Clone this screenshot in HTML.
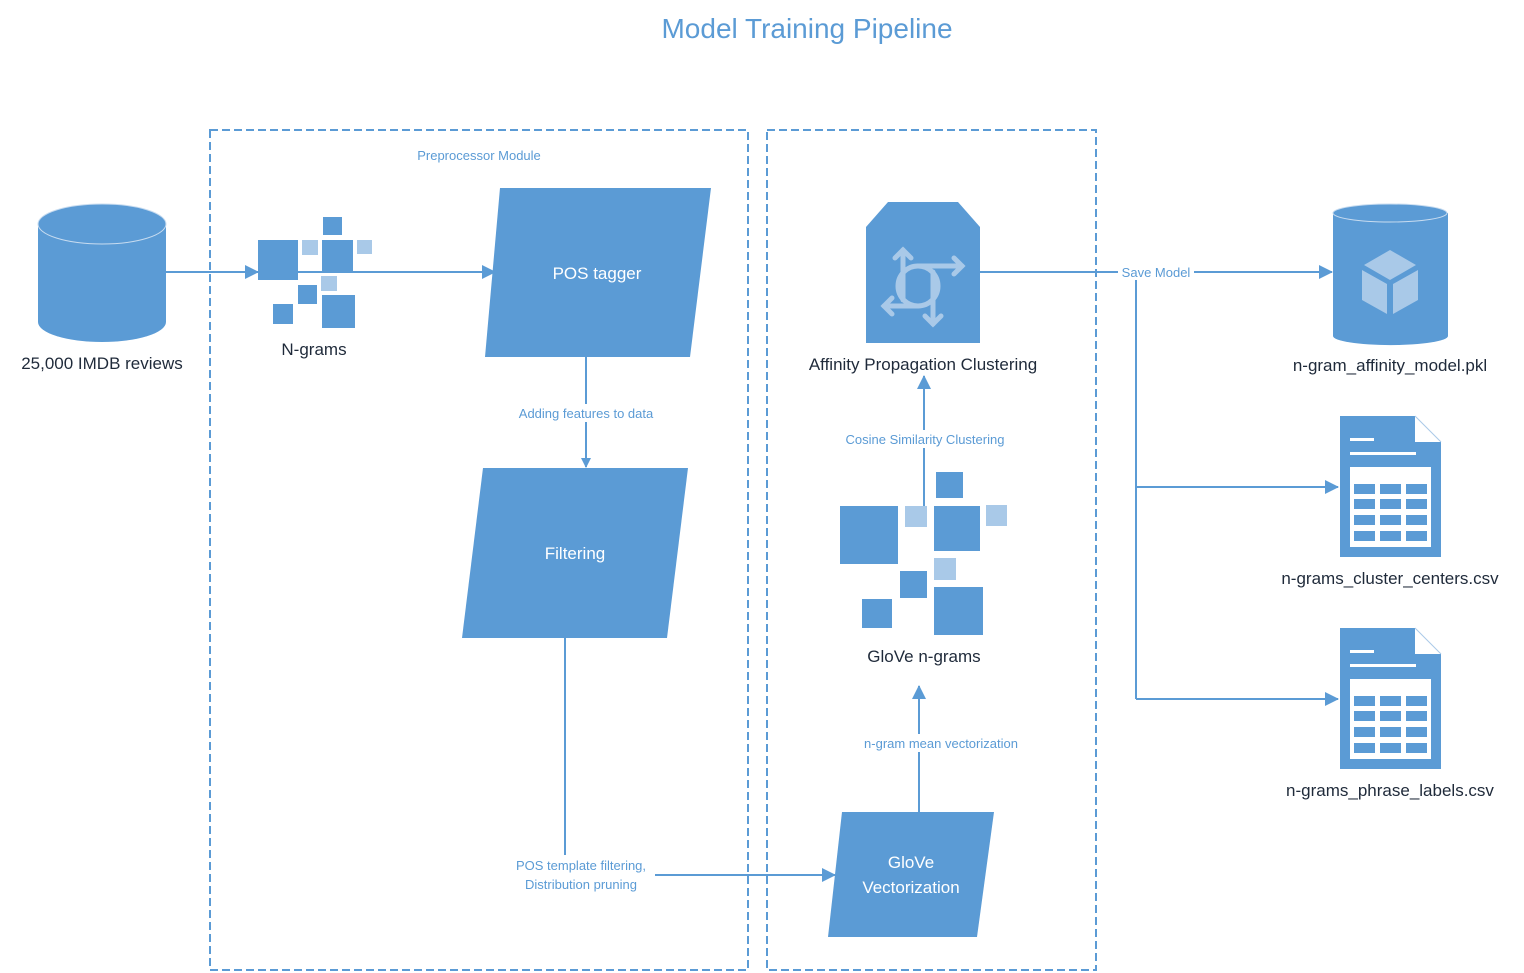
<!DOCTYPE html>
<html><head><meta charset="utf-8"><style>
html,body{margin:0;padding:0;background:#fff;}
svg{display:block;font-family:"Liberation Sans",sans-serif;}
.lbl{font-size:17px;fill:#1f2a3a;text-anchor:middle;}
.sm{font-size:13px;fill:#5b9bd5;text-anchor:middle;}
.wt{font-size:17px;fill:#fff;text-anchor:middle;}
.b{fill:#5b9bd5;}
.l{fill:#a9c9e8;}
.ln{stroke:#5b9bd5;stroke-width:2;fill:none;}
</style></head><body>
<svg width="1524" height="973" viewBox="0 0 1524 973">
<defs>
<marker id="a" markerWidth="10" markerHeight="10" refX="9" refY="5" orient="auto" markerUnits="userSpaceOnUse"><path d="M0,0 L10,5 L0,10 z" fill="#5b9bd5"/></marker>
<marker id="a2" markerWidth="14" markerHeight="14" refX="13" refY="7" orient="auto" markerUnits="userSpaceOnUse"><path d="M0,0 L14,7 L0,14 z" fill="#5b9bd5"/></marker>
</defs>
<text x="807" y="38" font-size="28" fill="#5b9bd5" text-anchor="middle">Model Training Pipeline</text>

<rect x="210" y="130" width="538" height="840" fill="none" stroke="#5b9bd5" stroke-width="2" stroke-dasharray="8,4"/>
<rect x="767" y="130" width="329" height="840" fill="none" stroke="#5b9bd5" stroke-width="2" stroke-dasharray="8,4"/>
<text x="479" y="160" font-size="13" fill="#5b9bd5" text-anchor="middle">Preprocessor Module</text>

<!-- left cylinder -->
<path class="b" d="M38,224 L38,322 A64,20 0 0 0 166,322 L166,224 z"/>
<ellipse cx="102" cy="224" rx="64" ry="20" class="b" stroke="#c8dcf0" stroke-width="1"/>
<text x="102" y="369" class="lbl">25,000 IMDB reviews</text>
<line x1="166" y1="272" x2="258" y2="272" class="ln" marker-end="url(#a2)"/>

<!-- N-grams -->
<rect x="258" y="240" width="40" height="40" class="b"/>
<rect x="302" y="240" width="16" height="15" class="l"/>
<rect x="322" y="240" width="31" height="31" class="b"/>
<rect x="357" y="240" width="15" height="14" class="l"/>
<rect x="323" y="217" width="19" height="18" class="b"/>
<rect x="321" y="276" width="16" height="15" class="l"/>
<rect x="298" y="285" width="19" height="19" class="b"/>
<rect x="273" y="304" width="20" height="20" class="b"/>
<rect x="322" y="295" width="33" height="33" class="b"/>
<text x="314" y="355" class="lbl">N-grams</text>
<line x1="298" y1="272" x2="495" y2="272" class="ln" marker-end="url(#a2)"/>

<!-- POS tagger -->
<polygon points="500,188 711,188 690,357 485,357" class="b"/>
<text x="597" y="279" class="wt">POS tagger</text>
<line x1="586" y1="357" x2="586" y2="467" class="ln" marker-end="url(#a)"/>
<rect x="508" y="404" width="158" height="18" fill="#fff"/>
<text x="586" y="418" class="sm">Adding features to data</text>

<!-- Filtering -->
<polygon points="483,468 688,468 667,638 462,638" class="b"/>
<text x="575" y="559" class="wt">Filtering</text>
<line x1="565" y1="638" x2="565" y2="855" class="ln"/>
<text x="581" y="870" class="sm">POS template filtering,</text>
<text x="581" y="889" class="sm">Distribution pruning</text>
<line x1="655" y1="875" x2="835" y2="875" class="ln" marker-end="url(#a2)"/>

<!-- GloVe Vectorization -->
<polygon points="842,812 994,812 977,937 828,937" class="b"/>
<text x="911" y="868" class="wt">GloVe</text>
<text x="911" y="893" class="wt">Vectorization</text>
<line x1="919" y1="812" x2="919" y2="686" class="ln" marker-end="url(#a2)"/>
<rect x="852" y="734" width="178" height="18" fill="#fff"/>
<text x="941" y="748" class="sm">n-gram mean vectorization</text>

<!-- GloVe n-grams -->
<rect x="840" y="506" width="58" height="58" class="b"/>
<rect x="905" y="506" width="22" height="21" class="l"/>
<rect x="934" y="506" width="46" height="45" class="b"/>
<rect x="936" y="472" width="27" height="26" class="b"/>
<rect x="986" y="505" width="21" height="21" class="l"/>
<rect x="934" y="558" width="22" height="22" class="l"/>
<rect x="900" y="571" width="27" height="27" class="b"/>
<rect x="862" y="599" width="30" height="29" class="b"/>
<rect x="934" y="587" width="49" height="48" class="b"/>
<text x="924" y="662" class="lbl">GloVe n-grams</text>
<line x1="924" y1="506" x2="924" y2="376" class="ln" marker-end="url(#a2)"/>
<rect x="835" y="430" width="180" height="18" fill="#fff"/>
<text x="925" y="444" class="sm">Cosine Similarity Clustering</text>

<!-- Affinity -->
<path class="b" d="M888,202 L958,202 L980,227 L980,343 L866,343 L866,227 z"/>
<g stroke="#a9c9e8" stroke-width="5" fill="none" stroke-linecap="round">
<circle cx="918" cy="286" r="20"/>
<line x1="903" y1="300" x2="903" y2="250"/>
<polyline points="895,258 903,250 911,258"/>
<line x1="918" y1="266" x2="962" y2="266"/>
<polyline points="954,258 962,266 954,274"/>
<line x1="933" y1="272" x2="933" y2="324"/>
<polyline points="925,316 933,324 941,316"/>
<line x1="918" y1="306" x2="884" y2="306"/>
<polyline points="892,298 884,306 892,314"/>
</g>
<text x="923" y="370" class="lbl">Affinity Propagation Clustering</text>

<!-- Save model connector -->
<line x1="980" y1="272" x2="1332" y2="272" class="ln" marker-end="url(#a2)"/>
<line x1="1136" y1="272" x2="1136" y2="699" class="ln"/>
<line x1="1136" y1="487" x2="1338" y2="487" class="ln" marker-end="url(#a2)"/>
<line x1="1136" y1="699" x2="1338" y2="699" class="ln" marker-end="url(#a2)"/>
<rect x="1118" y="264" width="76" height="16" fill="#fff"/>
<text x="1156" y="277" class="sm">Save Model</text>

<!-- right cylinder -->
<path class="b" d="M1333,213 L1333,336 A57,9 0 0 0 1448,336 L1448,213 z"/>
<ellipse cx="1390" cy="213" rx="57" ry="9" class="b" stroke="#c8dcf0" stroke-width="1"/>
<polygon points="1390,250 1416,265 1390,280 1364,265" class="l"/>
<polygon points="1362,270 1387,284 1387,314 1362,300" class="l"/>
<polygon points="1418,270 1393,284 1393,314 1418,300" class="l"/>
<text x="1390" y="371" class="lbl">n-gram_affinity_model.pkl</text>

<!-- CSV docs -->
<g id="doc">
<path class="b" d="M1340,416 L1415,416 L1441,442 L1441,557 L1340,557 z"/>
<path d="M1415,416 L1441,442 L1415,442 z" fill="#fff"/>
<path d="M1415,416 L1441,442" stroke="#a9c9e8" stroke-width="1"/>
<rect x="1350" y="438" width="24" height="3" fill="#fff"/>
<rect x="1350" y="452" width="66" height="3" fill="#fff"/>
<rect x="1350" y="467" width="81" height="80" fill="#fff"/>
<g class="b">
<rect x="1354" y="484" width="21" height="10"/><rect x="1380" y="484" width="21" height="10"/><rect x="1406" y="484" width="21" height="10"/>
<rect x="1354" y="499" width="21" height="10"/><rect x="1380" y="499" width="21" height="10"/><rect x="1406" y="499" width="21" height="10"/>
<rect x="1354" y="515" width="21" height="10"/><rect x="1380" y="515" width="21" height="10"/><rect x="1406" y="515" width="21" height="10"/>
<rect x="1354" y="531" width="21" height="10"/><rect x="1380" y="531" width="21" height="10"/><rect x="1406" y="531" width="21" height="10"/>
</g>
</g>
<use href="#doc" y="212"/>
<text x="1390" y="584" class="lbl">n-grams_cluster_centers.csv</text>
<text x="1390" y="796" class="lbl">n-grams_phrase_labels.csv</text>
</svg>
</body></html>
